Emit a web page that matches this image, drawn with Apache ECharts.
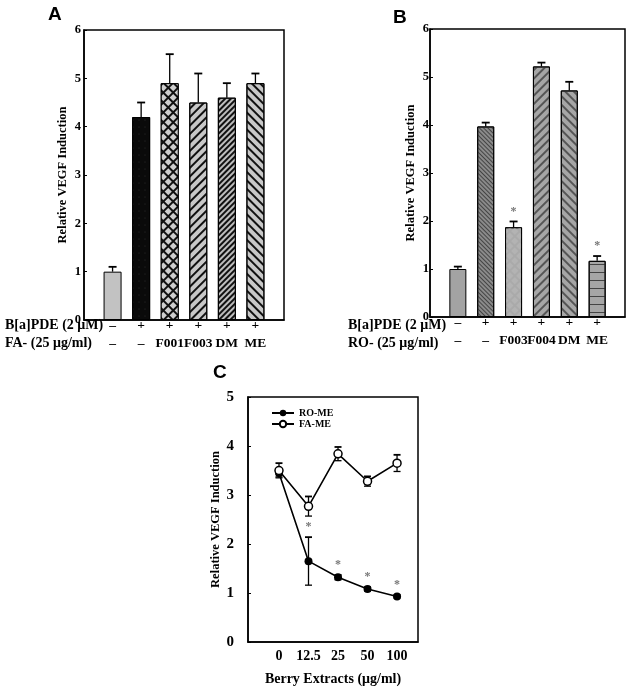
<!DOCTYPE html>
<html>
<head>
<meta charset="utf-8">
<script src="https://cdn.jsdelivr.net/npm/echarts@6/dist/echarts.min.js"></script>
<style>
html,body{margin:0;padding:0;background:#fff;}
#chart{width:632px;height:688px;}
</style>
</head>
<body>
<div id="chart"></div>
<script>
// Panel A
const aRow1 = ['–', '+', '+', '+', '+', '+'];
const aRow2 = ['–', '–', 'F001', 'F003', 'DM', 'ME'];
const aValues = [1.0, 4.2, 4.9, 4.5, 4.6, 4.9];
const aErr = [0.1, 0.3, 0.6, 0.6, 0.3, 0.2];
const aHeaders = ['B[a]PDE (2 μM)', 'FA- (25 μg/ml)'];
// Panel B
const bRow1 = ['–', '+', '+', '+', '+', '+'];
const bRow2 = ['–', '–', 'F003', 'F004', 'DM', 'ME'];
const bValues = [1.0, 3.97, 1.87, 5.22, 4.72, 1.17];
const bErr = [0.05, 0.08, 0.12, 0.08, 0.18, 0.1];
const bSig = [0, 0, 1, 0, 0, 1];
const bHeaders = ['B[a]PDE (2 μM)', 'RO- (25 μg/ml)'];
// Panel C
const cCats = ['0', '12.5', '25', '50', '100'];
const roMe = [3.45, 1.65, 1.32, 1.08, 0.93];
const roMeErr = [0.08, 0.49, 0.05, 0.04, 0.03];
const roSig = [0, 1, 1, 1, 1];
const faMe = [3.5, 2.77, 3.84, 3.28, 3.65];
const faMeErr = [0.15, 0.2, 0.14, 0.1, 0.17];
const faSig = [0, 0, 0, 0, 0];

const SERIF = '"Liberation Serif","Times New Roman",serif';
const SANS = '"Liberation Sans",Arial,sans-serif';

function stripes(rot, thick, gap, color, bg) {
  return { symbol: 'rect', symbolSize: 1, dashArrayX: [1, 0], dashArrayY: [thick, gap], rotation: rot, color: color, backgroundColor: bg || null };
}
function hatch(cell, gap, color) {
  return { symbol: 'rect', symbolSize: 1, dashArrayX: [cell, gap], dashArrayY: [cell, gap], rotation: Math.PI / 4, color: color };
}
const D = Math.PI / 4;
const aStyles = [
  { color: '#c2c2c2' },
  { color: '#0a0a0a', decal: { symbol: 'circle', symbolSize: 0.5, dashArrayX: [2, 4], dashArrayY: [2, 5], color: '#3a3a3a' } },
  { color: '#111', decal: hatch(4.5, 1.6, '#cfcfcf') },
  { color: '#c8c8c8', decal: stripes(-D, 1.8, 3.6, '#111') },
  { color: '#bdbdbd', decal: stripes(-D, 1.6, 2.0, '#111') },
  { color: '#c8c8c8', decal: stripes(D, 1.8, 3.6, '#111') }
];
const bStyles = [
  { color: '#a3a3a3' },
  { color: '#8a8a8a', decal: stripes(D, 1, 1.2, '#444') },
  { color: '#aaaaaa', decal: hatch(4.5, 1.2, '#b3b3b3') },
  { color: '#a6a6a6', decal: stripes(-D, 1.5, 3.5, '#555') },
  { color: '#a6a6a6', decal: stripes(D, 1.5, 3.5, '#555') },
  { color: '#a6a6a6', decal: stripes(0, 1, 7, '#444') }
];

function barData(vals, styles) {
  return vals.map((v, i) => ({ value: [i + 1, v], itemStyle: Object.assign({ borderColor: '#000', borderWidth: 1 }, styles[i]) }));
}
function errData(vals, errs, sig, offset) {
  return vals.map((v, i) => [i + offset, v, errs[i], sig ? sig[i] : 0]);
}
function errRender(both, capW, starGap) {
  return function (params, api) {
    const x = api.value(0), v = api.value(1), e = api.value(2), s = api.value(3);
    const top = api.coord([x, v + e]);
    const bot = api.coord([x, both ? v - e : v]);
    const ch = [
      { type: 'line', shape: { x1: top[0], y1: top[1], x2: bot[0], y2: bot[1] }, style: { stroke: '#000', lineWidth: 1.3 } },
      { type: 'line', shape: { x1: top[0] - capW / 2, y1: top[1], x2: top[0] + capW / 2, y2: top[1] }, style: { stroke: '#000', lineWidth: 1.8 } }
    ];
    if (both) ch.push({ type: 'line', shape: { x1: bot[0] - capW / 2, y1: bot[1], x2: bot[0] + capW / 2, y2: bot[1] }, style: { stroke: '#000', lineWidth: 1.3 } });
    if (s) ch.push({ type: 'text', style: { text: '*', x: top[0], y: top[1] - starGap, align: 'center', verticalAlign: 'middle', fill: '#777', font: 'bold 12px ' + SERIF } });
    return { type: 'group', children: ch };
  };
}

function barXAxis(idx, row1, row2) {
  return {
    type: 'value', gridIndex: idx, min: 0, max: 7,
    axisLine: { show: true, onZero: false, lineStyle: { color: '#000', width: 1.5 } },
    axisTick: { show: false }, splitLine: { show: false },
    axisLabel: {
      customValues: [1, 2, 3, 4, 5, 6], margin: -3, color: '#000',
      fontFamily: SERIF, fontWeight: 'bold', fontSize: 13.5, lineHeight: 18,
      formatter: v => row1[v - 1] + '\n' + row2[v - 1]
    }
  };
}
function yAxis(idx, max, nameGap, labelMargin, fontSize) {
  return {
    type: 'value', gridIndex: idx, min: 0, max: max, interval: 1,
    name: 'Relative VEGF Induction', nameLocation: 'middle', nameGap: nameGap,
    nameTextStyle: { fontFamily: SERIF, fontWeight: 'bold', fontSize: 12.5, color: '#000' },
    axisLine: { show: true, onZero: false, lineStyle: { color: '#000', width: 1.5 } },
    axisTick: { show: true, inside: true, length: 3, lineStyle: { color: '#000' } },
    splitLine: { show: false },
    axisLabel: { margin: labelMargin, color: '#000', fontFamily: SERIF, fontWeight: 'bold', fontSize: fontSize }
  };
}

const chart = echarts.init(document.getElementById('chart'), null, { renderer: 'canvas' });
const headerText = (x, y, t) => ({ type: 'text', left: x, top: y, style: { text: t, font: 'bold 14px ' + SERIF, fill: '#000' } });

chart.setOption({
  animation: false,
  grid: [
    { left: 84, top: 30, width: 200, height: 290, show: true, borderColor: '#000', borderWidth: 1.5, backgroundColor: 'transparent' },
    { left: 430, top: 29, width: 195, height: 288, show: true, borderColor: '#000', borderWidth: 1.5, backgroundColor: 'transparent' },
    { left: 248, top: 397, width: 170, height: 245, show: true, borderColor: '#000', borderWidth: 1.5, backgroundColor: 'transparent' }
  ],
  xAxis: [
    barXAxis(0, aRow1, aRow2),
    barXAxis(1, bRow1, bRow2),
    {
      type: 'value', gridIndex: 2, min: -1.05, max: 4.71,
      name: 'Berry Extracts (μg/ml)', nameLocation: 'middle', nameGap: 30,
      nameTextStyle: { fontFamily: SERIF, fontWeight: 'bold', fontSize: 14, color: '#000' },
      axisLine: { show: true, onZero: false, lineStyle: { color: '#000', width: 1.5 } },
      axisTick: { show: false }, splitLine: { show: false },
      axisLabel: { customValues: [0, 1, 2, 3, 4], margin: 7, color: '#000', fontFamily: SERIF, fontWeight: 'bold', fontSize: 14, formatter: v => cCats[v] }
    }
  ],
  yAxis: [yAxis(0, 6, 15, 3, 12.5), yAxis(1, 6, 13, 1, 12.5), yAxis(2, 5, 26, 14, 15)],
  legend: {
    orient: 'vertical', left: 266, top: 403, itemWidth: 22, itemHeight: 8, itemGap: 1,
    textStyle: { fontFamily: SERIF, fontWeight: 'bold', fontSize: 10, color: '#000' },
    data: ['RO-ME', 'FA-ME']
  },
  graphic: [
    { type: 'text', left: 48, top: 5, style: { text: 'A', font: 'bold 19px ' + SANS, fill: '#000' } },
    { type: 'text', left: 393, top: 8, style: { text: 'B', font: 'bold 19px ' + SANS, fill: '#000' } },
    { type: 'text', left: 213, top: 363, style: { text: 'C', font: 'bold 19px ' + SANS, fill: '#000' } },
    headerText(5, 318, aHeaders[0]), headerText(5, 336, aHeaders[1]),
    headerText(348, 318, bHeaders[0]), headerText(348, 336, bHeaders[1])
  ],
  series: [
    { type: 'bar', xAxisIndex: 0, yAxisIndex: 0, barWidth: 18, data: barData(aValues, aStyles) },
    { type: 'custom', xAxisIndex: 0, yAxisIndex: 0, renderItem: errRender(false, 8, 8), data: errData(aValues, aErr, null, 1), z: 5 },
    { type: 'bar', xAxisIndex: 1, yAxisIndex: 1, barWidth: 17, data: barData(bValues, bStyles) },
    { type: 'custom', xAxisIndex: 1, yAxisIndex: 1, renderItem: errRender(false, 8, 10), data: errData(bValues, bErr, bSig, 1), z: 5 },
    { name: 'RO-ME', type: 'line', xAxisIndex: 2, yAxisIndex: 2, symbol: 'circle', symbolSize: 8,
      lineStyle: { color: '#000', width: 1.6 }, itemStyle: { color: '#000' }, data: roMe.map((v, i) => [i, v]), z: 3 },
    { type: 'custom', xAxisIndex: 2, yAxisIndex: 2, renderItem: errRender(true, 7, 10), data: errData(roMe, roMeErr, roSig, 0), z: 2 },
    { name: 'FA-ME', type: 'line', xAxisIndex: 2, yAxisIndex: 2, symbol: 'circle', symbolSize: 8,
      lineStyle: { color: '#000', width: 1.6 }, itemStyle: { color: '#fff', borderColor: '#000', borderWidth: 1.5 }, data: faMe.map((v, i) => [i, v]), z: 4 },
    { type: 'custom', xAxisIndex: 2, yAxisIndex: 2, renderItem: errRender(true, 7, 10), data: errData(faMe, faMeErr, faSig, 0), z: 2 }
  ]
});
</script>
</body>
</html>
